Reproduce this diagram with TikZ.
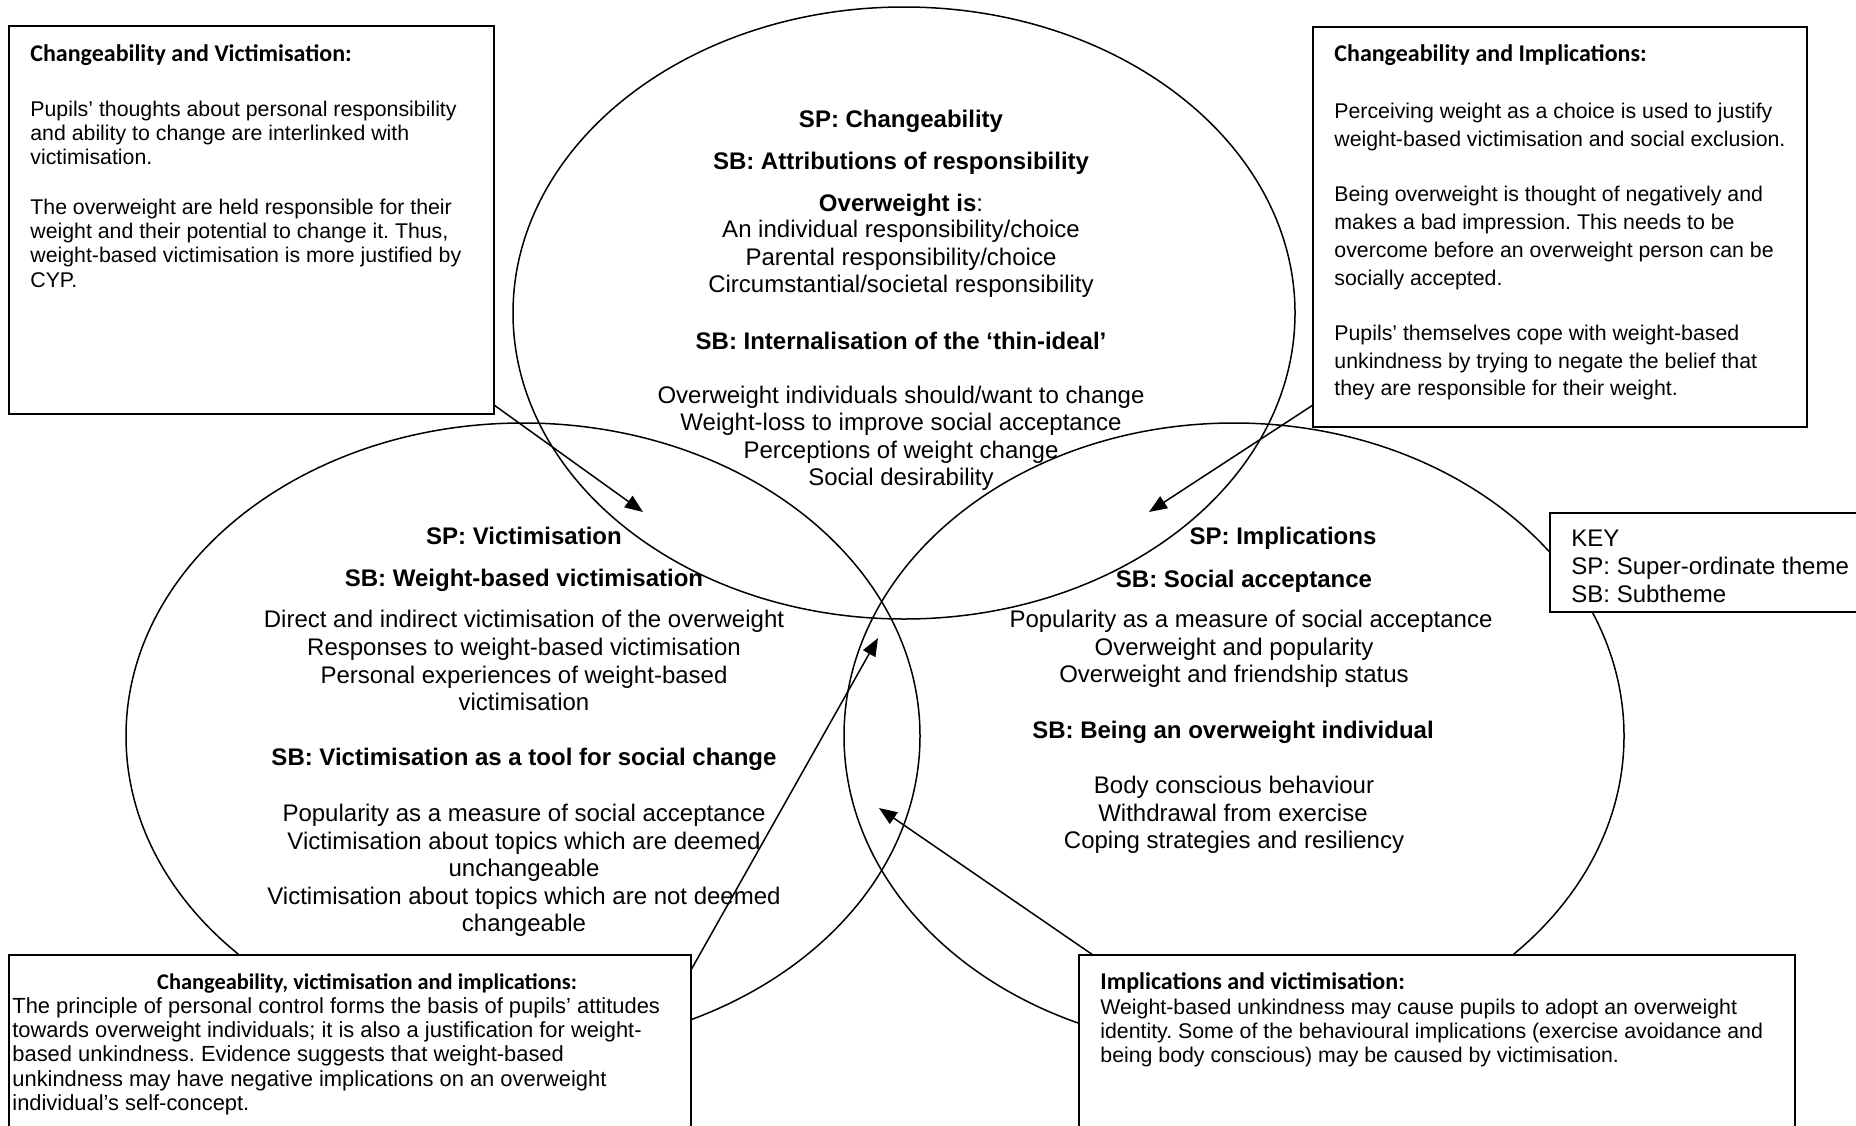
\documentclass[tikz,border=0pt]{standalone}
\usepackage{fontspec}
\setmainfont{Liberation Sans}
\newfontfamily\calibfont{Carlito}
\usetikzlibrary{shapes.geometric,arrows.meta,fit}
\frenchspacing

\begin{document}
\begin{tikzpicture}[x=0.5pt,y=-0.5pt,
  ring/.style={draw, ellipse, line width=0.75pt, inner sep=0pt, outer sep=0pt},
  panel/.style={draw, fill=white, line width=1pt, rectangle, inner sep=0pt, outer sep=0pt},
  ell/.style={anchor=base, inner sep=0pt, font=\fontsize{12}{14}\selectfont},
  ellb/.style={anchor=base, inner sep=0pt, font=\fontsize{12}{14}\selectfont\bfseries},
  body/.style={anchor=base west, inner sep=0pt, font=\fontsize{10.65}{12}\selectfont},
  widebody/.style={anchor=base west, inner sep=0pt, font=\fontsize{10.95}{12}\selectfont},
  keytext/.style={anchor=base west, inner sep=0pt, font=\fontsize{12}{14}\selectfont},
  head/.style={anchor=base west, inner sep=0pt, font=\fontsize{12}{14}\selectfont\calibfont\bfseries},
  smallhead/.style={anchor=base, inner sep=0pt, font=\fontsize{11.2}{13}\selectfont\calibfont\bfseries},
  link/.style={line width=0.75pt, -{Triangle[length=9pt,width=7pt]}}
]
\useasboundingbox (0,0) rectangle (1856,1125);
\clip (0,0) rectangle (1856,1125);

% the three overlapping themes
\node[ring, minimum width=391pt, minimum height=306pt] (ctop) at (904,313) {};
\node[ring, minimum width=397pt, minimum height=313pt] (cleft) at (523,736) {};
\node[ring, minimum width=390pt, minimum height=313pt] (cright) at (1234,736) {};

% text panels
\node[panel, fit={(9,26)(494,414)}] (tlbox) {};
\node[panel, fit={(1313,27)(1807,427)}] (trbox) {};
\node[panel, fit={(9,955)(691,1140)}] (blbox) {};
\node[panel, fit={(1079,955)(1795,1140)}] (brbox) {};
\node[panel, fit={(1550,513)(1870,612)}] (keybox) {};

% connectors
\coordinate (a1s) at (494,405);  \coordinate (a1e) at (643,512);
\coordinate (a2s) at (1313,405); \coordinate (a2e) at (1149,512);
\coordinate (a3s) at (691,970);  \coordinate (a3e) at (878,638);
\coordinate (a4s) at (1093,955); \coordinate (a4e) at (879,808);
\draw[link] (a1s) -- (a1e);
\draw[link] (a2s) -- (a2e);
\draw[link] (a3s) -- (a3e);
\draw[link] (a4s) -- (a4e);

% Changeability
\node[ellb] (t1) at (901,127.5) {SP: Changeability};
\node[ellb] (t2) at (901,169.5) {SB: Attributions of responsibility};
\node[ell]  (t3) at (901,211.5) {\textbf{Overweight is}:};
\node[ell]  (t4) at (901,237.5) {An individual responsibility/choice};
\node[ell]  (t5) at (901,265.5) {Parental responsibility/choice};
\node[ell]  (t6) at (901,292.5) {Circumstantial/societal responsibility};
\node[ellb] (t7) at (901,349.5) {SB: Internalisation of the ‘thin-ideal’};
\node[ell]  (t8) at (901,403.5) {Overweight individuals should/want to change};
\node[ell]  (t9) at (901,430.5) {Weight-loss to improve social acceptance};
\node[ell]  (t10) at (901,458.5) {Perceptions of weight change};
\node[ell]  (t11) at (901,485.5) {Social desirability};

% Victimisation
\node[ellb] (l1) at (524,544.5) {SP: Victimisation};
\node[ellb] (l2) at (524,586.5) {SB: Weight-based victimisation};
\node[ell]  (l3) at (524,627.5) {Direct and indirect victimisation of the overweight};
\node[ell]  (l4) at (524,655.5) {Responses to weight-based victimisation};
\node[ell]  (l5) at (524,683.5) {Personal experiences of weight-based};
\node[ell]  (l6) at (524,710.5) {victimisation};
\node[ellb] (l7) at (524,765.5) {SB: Victimisation as a tool for social change};
\node[ell]  (l8) at (524,821.5) {Popularity as a measure of social acceptance};
\node[ell]  (l9) at (524,849.5) {Victimisation about topics which are deemed};
\node[ell]  (l10) at (524,876.5) {unchangeable};
\node[ell]  (l11) at (524,904.5) {Victimisation about topics which are not deemed};
\node[ell]  (l12) at (524,931.5) {changeable};

% Implications
\node[ellb] (r1) at (1283,544.5) {SP: Implications};
\node[ellb] (r2) at (1244,587.5) {SB: Social acceptance};
\node[ell]  (r3) at (1251,627.5) {Popularity as a measure of social acceptance};
\node[ell]  (r4) at (1234,655.5) {Overweight and popularity};
\node[ell]  (r5) at (1234,682.5) {Overweight and friendship status};
\node[ellb] (r6) at (1233,738.5) {SB: Being an overweight individual};
\node[ell]  (r7) at (1234,793.5) {Body conscious behaviour};
\node[ell]  (r8) at (1233,821.5) {Withdrawal from exercise};
\node[ell]  (r9) at (1234,848.5) {Coping strategies and resiliency};

% top-left panel
\node[head] (tlh) at (30,61) {Changeability and Victimisation:};
\foreach \s [count=\i] in {{Pupils’ thoughts about personal responsibility},{and ability to change are interlinked with},{victimisation.}}
  \node[body] (tla\i) at (30,{116.5+24.2*(\i-1)}) {\s};
\foreach \s [count=\i] in {{The overweight are held responsible for their},{weight and their potential to change it. Thus,},{weight-based victimisation is more justified by},{CYP.}}
  \node[body] (tlb\i) at (30,{214.5+24.2*(\i-1)}) {\s};

% top-right panel
\node[head] (trh) at (1334,61) {Changeability and Implications:};
\foreach \s [count=\i] in {{Perceiving weight as a choice is used to justify},{weight-based victimisation and social exclusion.}}
  \node[body] (tra\i) at (1334,{118.5+27.5*(\i-1)}) {\s};
\foreach \s [count=\i] in {{Being overweight is thought of negatively and},{makes a bad impression. This needs to be},{overcome before an overweight person can be},{socially accepted.}}
  \node[body] (trb\i) at (1334,{201.5+28*(\i-1)}) {\s};
\foreach \s [count=\i] in {{Pupils’ themselves cope with weight-based},{unkindness by trying to negate the belief that},{they are responsible for their weight.}}
  \node[body] (trc\i) at (1334,{340.5+27.7*(\i-1)}) {\s};

% bottom-left panel
\node[smallhead] (blh) at (367,989) {Changeability, victimisation and implications:};
\foreach \s [count=\i] in {{The principle of personal control forms the basis of pupils’ attitudes},{towards overweight individuals; it is also a justification for weight-},{based unkindness. Evidence suggests that weight-based},{unkindness may have negative implications on an overweight},{individual’s self-concept.}}
  \node[widebody] (bla\i) at (12,{1013.5+24.2*(\i-1)}) {\s};

% bottom-right panel
\node[head] (brh) at (1100,989) {Implications and victimisation:};
\foreach \s [count=\i] in {{Weight-based unkindness may cause pupils to adopt an overweight},{identity. Some of the behavioural implications (exercise avoidance and},{being body conscious) may be caused by victimisation.}}
  \node[body] (bra\i) at (1100,{1014.5+24.2*(\i-1)}) {\s};

% key
\node[keytext] (k1) at (1571,546.5) {KEY};
\node[keytext] (k2) at (1571,574.5) {SP: Super-ordinate theme};
\node[keytext] (k3) at (1571,602.5) {SB: Subtheme};
\end{tikzpicture}
\end{document}
